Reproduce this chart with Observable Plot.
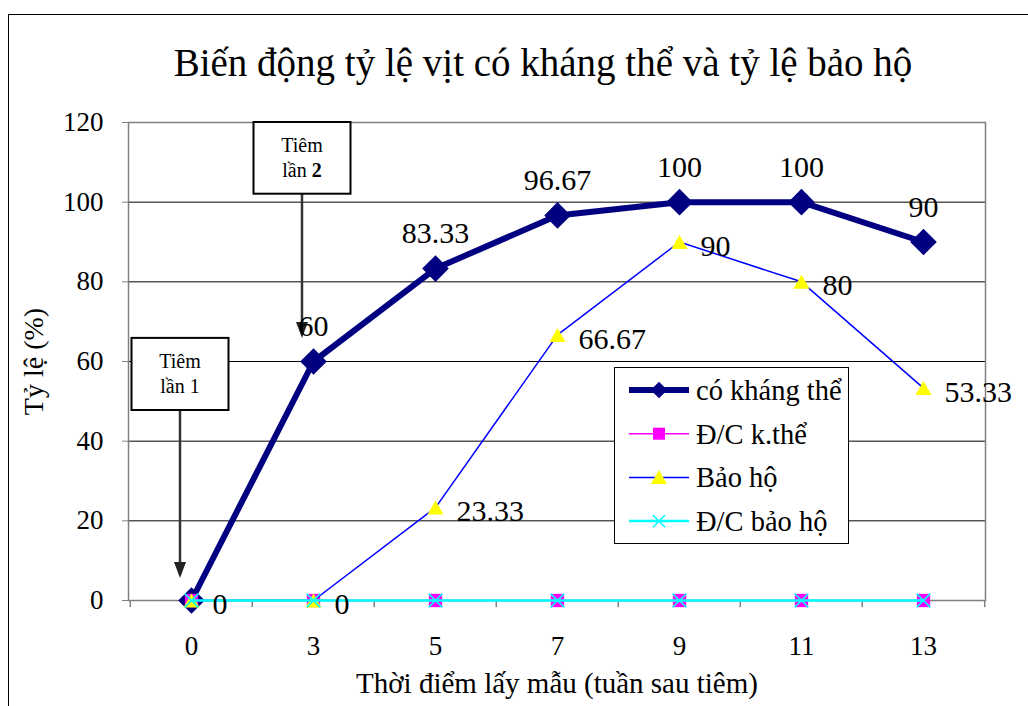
<!DOCTYPE html>
<html><head><meta charset="utf-8">
<script src="https://cdn.jsdelivr.net/npm/d3@7"></script>
<script src="https://cdn.jsdelivr.net/npm/@observablehq/plot@0.6"></script>
<style>
html,body{margin:0;padding:0;background:#fff;overflow:hidden;width:1028px;height:706px}
#wrap{position:relative;width:1028px;height:706px;font-family:"Liberation Serif","Times New Roman",serif;color:#000}
#border{position:absolute;left:8px;top:14px;width:1100px;height:800px;border:1px solid #000;box-sizing:border-box}
#title{position:relative;height:100px;}
#title span{position:absolute;left:543px;top:43px;transform:translateX(-50%);white-space:nowrap;font-size:39px;line-height:39px}
#chart{position:relative;height:606px}
#legend{position:absolute;left:614px;top:367px;width:235px;height:177px;border:1px solid #000;background:#fff;box-sizing:border-box}
</style></head>
<body><div id="wrap"><div id="border"></div>
<div id="title"><span>Biến động tỷ lệ vịt có kháng thể và tỷ lệ bảo hộ</span></div>
<div id="chart"></div>
<div id="legend"></div>
</div>
<script>
// ---- data ----
const weeks = ["0","3","5","7","9","11","13"];
const coKhangThe = [0, 60, 83.33, 96.67, 100, 100, 90];
const dcKThe = [0, 0, 0, 0, 0, 0, 0];
const baoHo = [0, 0, 23.33, 66.67, 90, 80, 53.33];
const dcBaoHo = [0, 0, 0, 0, 0, 0, 0];
const seriesNames = ["có kháng thể", "Đ/C k.thể", "Bảo hộ", "Đ/C bảo hộ"];
const yTicks = [0, 20, 40, 60, 80, 100, 120];
const xLabel = "Thời điểm lấy mẫu (tuần sau tiêm)";
const yLabel = "Tỷ lệ (%)";
// annotations: text lines, target week, box top/bottom and arrow tip (in % units)
const annotations = [
  {line1: "Tiêm", line2a: "lần ", line2b: "1", bold: false, week: "0", top: 65.8, bottom: 47.7, tip: 5.5},
  {line1: "Tiêm", line2a: "lần ", line2b: "2", bold: true, week: "3", top: 120, bottom: 102, tip: 65.8}
];

const FONT = "Liberation Serif, Times New Roman, serif";
const rows = weeks.map((w, i) => ({week: w, ck: coKhangThe[i], dck: dcKThe[i], bh: baoHo[i], dbh: dcBaoHo[i], i}));

const styles = [
  {name: seriesNames[0], key: "ck", stroke: "#000080", sw: 6, symbol: "diamond2", r: 12, fill: "#000080", mstroke: "none", dy: 0, lr: 7.5},
  {name: seriesNames[1], key: "dck", stroke: "#FF00FF", sw: 1.5, symbol: "square", r: 7.5, fill: "#FF00FF", mstroke: "none", dy: 0, lr: 6.8},
  {name: seriesNames[2], key: "bh", stroke: "#0000FF", sw: 1.5, symbol: "triangle", r: 6, fill: "#FFFF00", mstroke: "none", dy: 2.3, lr: 6},
  {name: seriesNames[3], key: "dbh", stroke: "#00FFFF", sw: 2.5, symbol: "times", r: 6.3, fill: "none", mstroke: "#00FFFF", dy: 0, lr: 5.6}
];

const W = 1028, H = 606, mL = 128, mR = 43, mT = 22, mB = 106;
const step = (W - mL - mR) / weeks.length;

const seriesMarks = styles.flatMap(s => [
  Plot.line(rows, {x: "week", y: s.key, stroke: s.stroke, strokeWidth: s.sw, strokeLinejoin: "round"}),
  Plot.dot(rows, {x: "week", y: s.key, symbol: s.symbol, r: s.r, dy: s.dy,
    fill: s.fill === "none" ? null : s.fill, stroke: s.mstroke === "none" ? null : s.mstroke,
    strokeWidth: s.symbol === "times" ? 1.5 : 0})
]);

function annotationMark(index, scales) {
  const g = d3.create("svg:g").attr("font-family", FONT);
  for (const a of annotations) {
    const cx = scales.x(a.week) - 11;
    const yt = scales.y(a.top), yb = scales.y(a.bottom), ytip = scales.y(a.tip);
    g.append("line").attr("x1", cx).attr("x2", cx).attr("y1", yb).attr("y2", ytip - 14)
      .attr("stroke", "#333").attr("stroke-width", 2.5);
    g.append("path").attr("d", `M${cx - 6},${ytip - 16}L${cx + 6},${ytip - 16}L${cx},${ytip}Z`).attr("fill", "#222");
    g.append("rect").attr("x", cx - 48.5).attr("y", yt).attr("width", 97).attr("height", yb - yt)
      .attr("fill", "#fff").attr("stroke", "#000").attr("stroke-width", 2);
    g.append("text").attr("x", cx).attr("y", yt + 30).attr("text-anchor", "middle")
      .attr("font-size", 20).text(a.line1);
    const t2 = g.append("text").attr("x", cx).attr("y", yt + 55).attr("text-anchor", "middle").attr("font-size", 20);
    t2.append("tspan").text(a.line2a);
    t2.append("tspan").attr("font-weight", a.bold ? "bold" : "normal").text(a.line2b);
  }
  return g.node();
}

const chart = Plot.plot({
  width: W, height: H, marginLeft: mL, marginRight: mR, marginTop: mT, marginBottom: mB,
  style: {fontFamily: FONT, fontSize: "27px", color: "#000", background: "transparent", overflow: "visible"},
  x: {type: "point", domain: weeks, padding: 0.5},
  y: {domain: [0, 120]},
  marks: [
    Plot.gridY(yTicks, {stroke: "#000", strokeOpacity: 1, strokeWidth: 1}),
    Plot.frame({stroke: "#808080", strokeWidth: 1.5}),
    Plot.axisY(yTicks, {tickSize: 6, tickPadding: 19, fontSize: 27, fontFamily: FONT, label: null, stroke: "#808080"}),
    Plot.axisX({tickSize: 0, tickPadding: 35, fontSize: 27, fontFamily: FONT, label: null}),
    Plot.ruleX(weeks, {x: d => d, y1: 0, y2: -1.8, dx: -step / 2, stroke: "#808080", strokeWidth: 1.5}),
    Plot.ruleX(weeks.slice(-1), {x: d => d, y1: 0, y2: -1.8, dx: step / 2, stroke: "#808080", strokeWidth: 1.5}),
    Plot.text([xLabel], {frameAnchor: "bottom", text: d => d, dy: 83, fontSize: 29, fontFamily: FONT, lineAnchor: "middle", textAnchor: "middle"}),
    Plot.text([yLabel], {frameAnchor: "left", text: d => d, dx: -94, rotate: -90, fontSize: 28, fontFamily: FONT, lineAnchor: "middle", textAnchor: "middle"}),
    annotationMark,
    ...seriesMarks,
    Plot.text(rows.filter(d => d.i > 0), {x: "week", y: "ck", text: d => String(d.ck), dy: -35, fontSize: 30, fontFamily: FONT}),
    Plot.text(rows, {x: "week", y: "bh", text: d => String(d.bh), dx: 21, dy: 4, textAnchor: "start", fontSize: 30, fontFamily: FONT})
  ]
});
document.getElementById("chart").appendChild(chart);

// ---- legend ----
const lg = d3.select("#legend").append("svg").attr("width", 233).attr("height", 175);
const symMap = {diamond2: d3.symbolDiamond2, square: d3.symbolSquare, triangle: d3.symbolTriangle, times: d3.symbolTimes};
styles.forEach((s, i) => {
  const y = 22 + i * 43.7;
  lg.append("line").attr("x1", 14).attr("x2", 74).attr("y1", y).attr("y2", y)
    .attr("stroke", s.stroke).attr("stroke-width", s.sw);
  lg.append("path").attr("transform", `translate(44,${y + s.dy * 0.8})`)
    .attr("d", d3.symbol(symMap[s.symbol], Math.PI * s.lr * s.lr)())
    .attr("fill", s.fill).attr("stroke", s.mstroke).attr("stroke-width", 1.5);
  lg.append("text").attr("x", 81).attr("y", y).attr("dy", "0.35em")
    .attr("font-family", FONT).attr("font-size", 28.5).text(s.name);
});
</script></body></html>
